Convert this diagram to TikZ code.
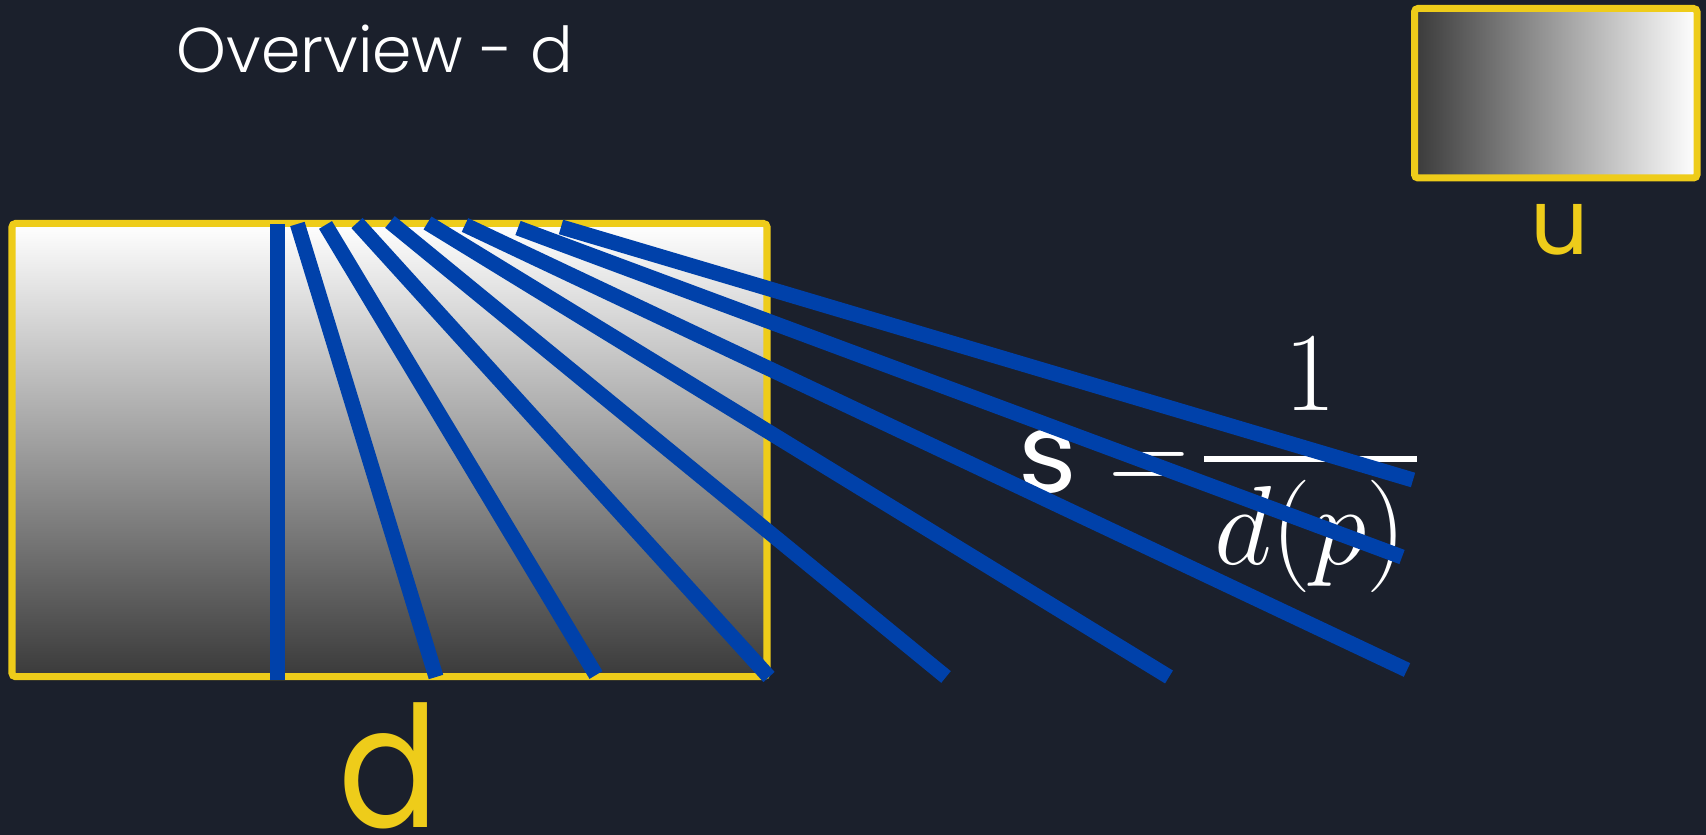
\RequirePackage{fix-cm}
\documentclass[tikz,border=0pt]{standalone}
\usepackage{amsmath}
\usepackage{fontspec}
\setmainfont{Poppins}
\newfontfamily\lightfont{Poppins Light}
\usetikzlibrary{positioning}

\definecolor{bgnavy}{RGB}{27,32,44}
\definecolor{rayblue}{RGB}{0,65,170}
\definecolor{frameyellow}{RGB}{238,204,26}
\definecolor{depthdark}{RGB}{58,58,58}
\definecolor{depthmid}{RGB}{192,192,192}

\begin{document}
\begin{tikzpicture}[
    frame/.style={draw=frameyellow, line width=2pt, rounded corners=1pt},
    ray/.style={draw=rayblue, line width=4.3pt},
  ]
    % Background
    \fill[bgnavy] (0,0) rectangle (17.06,8.35);
    \useasboundingbox (0,0) rectangle (17.06,8.35);
    % Depth map
    \draw[frame, top color=white, middle color=depthmid, bottom color=depthdark] (0.12,1.583) rectangle (7.67,6.115);
    % Uncertainty map
    \draw[frame, left color=depthdark, middle color=depthmid, right color=white] (14.145,6.57) rectangle (16.97,8.265);
    % Labels
    \node[anchor=base west, inner sep=0pt, text=white, font=\lightfont\fontsize{18}{20}\selectfont] (title) at (1.76,7.623) {Overview - d};
    \node[anchor=base, inner sep=0pt, text=frameyellow, font=\fontsize{26}{30}\selectfont] (ulabel) at (15.6,5.80) {u};
    \node[anchor=base, inner sep=0pt, text=frameyellow, font=\fontsize{48}{50}\selectfont] (dlabel) at (3.89,0.07) {\scalebox{0.88}[1]{d}};
    % Formula
    \node[anchor=base west, text=white, inner sep=0pt, font=\fontsize{32}{38}\selectfont] (formula) at (10.18,3.42) {$\mbox{s} = \kern-6pt\raisebox{0.06cm}{$\displaystyle\genfrac{}{}{1.5pt}{0}{1}{\kern3pt d(p)\kern3pt}$}$};
    % Rays
    \foreach \sx/\sy/\ex/\ey [count=\i] in {2.776/6.11/2.776/1.545, 2.974/6.11/4.36/1.58, 3.255/6.10/5.96/1.60, 3.57/6.12/7.69/1.58, 3.90/6.13/9.46/1.58, 4.275/6.12/11.69/1.58, 4.65/6.10/14.07/1.65, 5.18/6.07/14.02/2.78, 5.61/6.08/14.13/3.55} {
        \coordinate (s\i) at (\sx,\sy);
        \coordinate (e\i) at (\ex,\ey);
        \draw[ray] (s\i) -- (e\i);
    }
\end{tikzpicture}
\end{document}
